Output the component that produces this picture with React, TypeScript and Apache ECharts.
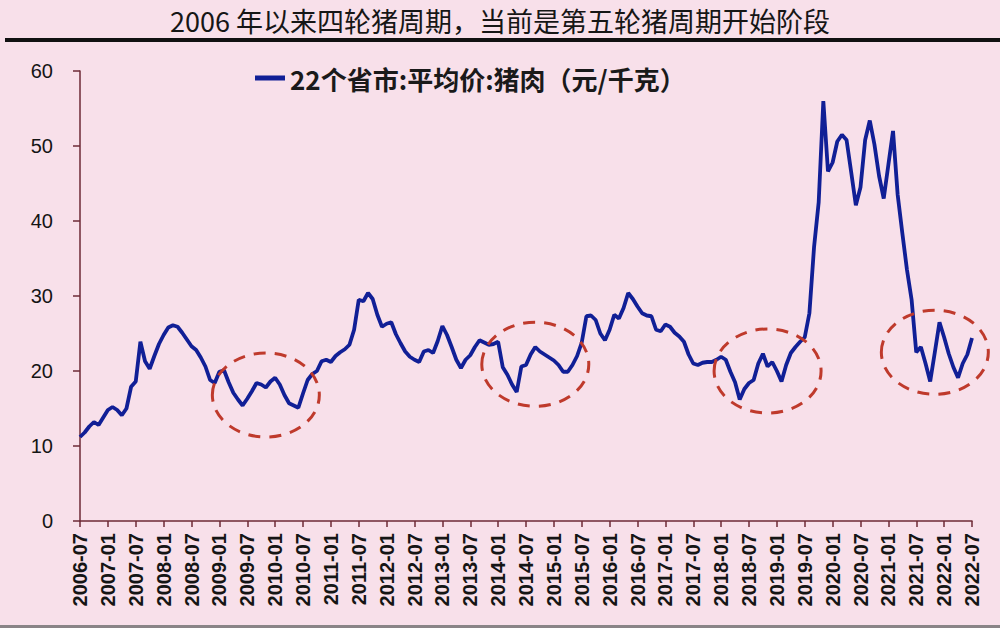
import React, { useEffect, useRef } from "react";
import * as echarts from "echarts";

const TITLE = "2006 年以来四轮猪周期，当前是第五轮猪周期开始阶段";
const SERIES_NAME = "22个省市:平均价:猪肉（元/千克）";

// monthly categories 2006-07 .. 2022-07
const months: string[] = [];
for (let y = 2006; y <= 2022; y++) {
  for (let m = 1; m <= 12; m++) {
    if ((y === 2006 && m < 7) || (y === 2022 && m > 7)) continue;
    months.push(`${y}-${String(m).padStart(2, "0")}`);
  }
}

// 元/千克
const price2006 = [11.2, 11.8, 12.6, 13.2, 12.8, 13.8];
const price2007 = [14.8, 15.2, 14.8, 14.1, 15.0, 17.9, 18.6, 23.9, 21.3, 20.3, 22.0, 23.6];
const price2008 = [24.8, 25.8, 26.1, 25.9, 25.1, 24.2, 23.3, 22.8, 21.8, 20.6, 18.8, 18.4];
const price2009 = [19.9, 20.1, 18.5, 17.1, 16.2, 15.4, 16.3, 17.3, 18.4, 18.2, 17.8, 18.6];
const price2010 = [19.1, 18.2, 16.8, 15.7, 15.4, 15.1, 17.0, 18.8, 19.6, 20.0, 21.3, 21.5];
const price2011 = [21.2, 22.0, 22.5, 22.9, 23.5, 25.5, 29.5, 29.3, 30.4, 29.6, 27.5, 25.9];
const price2012 = [26.3, 26.5, 24.9, 23.7, 22.6, 21.9, 21.5, 21.2, 22.6, 22.8, 22.4, 24.0];
const price2013 = [26.0, 24.8, 23.2, 21.5, 20.4, 21.5, 22.1, 23.2, 24.1, 23.8, 23.5, 23.6];
const price2014 = [23.9, 20.5, 19.5, 18.2, 17.2, 20.6, 20.8, 22.2, 23.2, 22.6, 22.2, 21.8];
const price2015 = [21.4, 20.8, 19.9, 19.9, 20.8, 22.0, 23.8, 27.3, 27.4, 26.8, 25.0, 24.1];
const price2016 = [25.5, 27.5, 27.0, 28.4, 30.4, 29.6, 28.6, 27.7, 27.4, 27.3, 25.5, 25.3];
const price2017 = [26.2, 25.9, 25.1, 24.6, 23.9, 22.2, 21.0, 20.8, 21.1, 21.2, 21.2, 21.5];
const price2018 = [21.9, 21.5, 19.9, 18.5, 16.2, 17.6, 18.4, 18.8, 21.0, 22.3, 20.6, 21.2];
const price2019 = [20.0, 18.6, 20.8, 22.4, 23.2, 23.9, 24.5, 27.7, 36.5, 42.5, 56.0, 46.6];
const price2020 = [47.8, 50.6, 51.5, 50.8, 46.5, 42.1, 44.5, 50.8, 53.4, 50.2, 46.0, 43.0];
const price2021 = [47.5, 52.0, 43.5, 38.4, 33.5, 29.5, 22.5, 23.2, 21.0, 18.6, 22.5, 26.5];
const price2022 = [24.5, 22.3, 20.5, 19.1, 21.0, 22.2, 24.4];

const price = [
  ...price2006, ...price2007, ...price2008, ...price2009, ...price2010, ...price2011,
  ...price2012, ...price2013, ...price2014, ...price2015, ...price2016, ...price2017,
  ...price2018, ...price2019, ...price2020, ...price2021, ...price2022,
];

// centres of the dashed "trough" ellipses, in data terms
const troughMonths = ["2009-11", "2014-09", "2018-11", "2021-11"];
const troughValues = [16.8, 20.9, 20.0, 22.5];

export default function App() {
  const ref = useRef<HTMLDivElement>(null);

  useEffect(() => {
    if (!ref.current) return;
    const chart = echarts.init(ref.current, null, { renderer: "svg" });
    const axisColor = "#6e2a36";
    chart.setOption({
      animation: false,
      backgroundColor: "#f8e0ea",
      title: {
        text: TITLE,
        left: "center",
        top: 2,
        textStyle: {
          fontSize: 27,
          fontWeight: "normal",
          color: "#161616",
          fontFamily: "Noto Sans CJK SC",
        },
      },
      legend: {
        left: 250,
        top: 60,
        icon: "rect",
        itemWidth: 30,
        itemHeight: 5,
        itemGap: 4,
        textStyle: {
          fontSize: 26,
          fontWeight: "bold",
          color: "#1a1a1a",
          fontFamily: "Noto Sans CJK SC",
        },
      },
      grid: { left: 80, right: 28, top: 71, bottom: 107, containLabel: false },
      xAxis: {
        type: "category",
        data: months,
        boundaryGap: false,
        axisLine: { lineStyle: { color: axisColor, width: 1.5 } },
        axisTick: { interval: 5, length: 6, lineStyle: { color: axisColor, width: 1.5 } },
        axisLabel: {
          interval: 5,
          rotate: 90,
          margin: 12,
          fontSize: 20,
          fontWeight: "bold",
          color: "#151515",
          fontFamily: "Liberation Sans",
        },
        splitLine: { show: false },
      },
      yAxis: {
        type: "value",
        min: 0,
        max: 60,
        interval: 10,
        axisLine: { show: true, lineStyle: { color: axisColor, width: 1.5 } },
        axisTick: { show: true, length: 7, lineStyle: { color: axisColor, width: 1.5 } },
        axisLabel: {
          margin: 27,
          fontSize: 20,
          color: "#151515",
          fontFamily: "Liberation Sans",
        },
        splitLine: { show: false },
      },
      series: [
        {
          name: SERIES_NAME,
          type: "line",
          data: price,
          symbol: "none",
          smooth: false,
          lineStyle: { color: "#111f96", width: 3.8 },
          itemStyle: { color: "#111f96" },
        },
      ],
    });

    const ellipses = troughMonths.map((m, i) => {
      const p = chart.convertToPixel({ gridIndex: 0 }, [m, troughValues[i]]) as number[];
      return {
        type: "ellipse",
        shape: { cx: p[0], cy: p[1], rx: 53.5, ry: 42 },
        style: { fill: "none", stroke: "#bf3a2c", lineWidth: 3, lineDash: [12, 9] },
        z: 100,
      };
    });

    chart.setOption({
      graphic: [
        { type: "rect", shape: { x: 5, y: 38, width: 995, height: 4 }, style: { fill: "#111" } },
        { type: "rect", shape: { x: 0, y: 625, width: 1000, height: 3 }, style: { fill: "#8a8487" } },
        ...ellipses,
      ],
    });

    return () => chart.dispose();
  }, []);

  return (
    <div
      ref={ref}
      style={{ position: "fixed", left: 0, top: 0, width: 1000, height: 628 }}
    />
  );
}
